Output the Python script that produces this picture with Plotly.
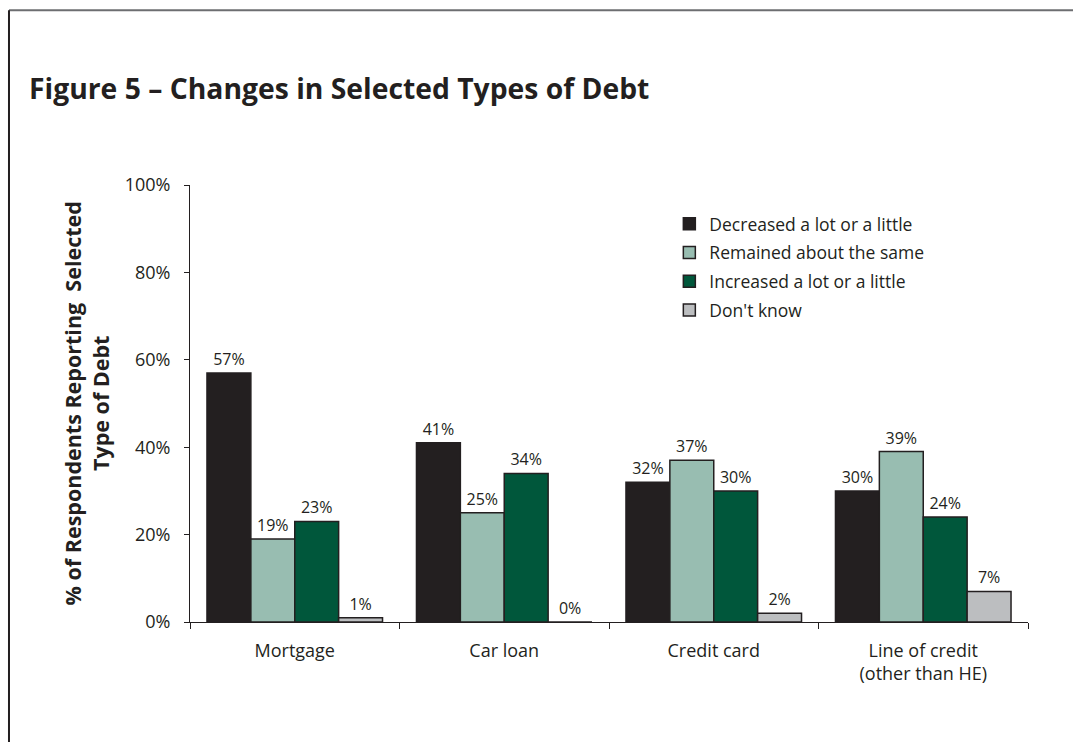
import plotly.graph_objects as go

# Survey results: share of respondents reporting a change in each type of debt
categories = ["Mortgage", "Car loan", "Credit card", "Line of credit<br>(other than HE)"]
series_names = [
    "Decreased a lot or a little",
    "Remained about the same",
    "Increased a lot or a little",
    "Don't know",
]
decreased = [57, 41, 32, 30]
remained = [19, 25, 37, 39]
increased = [23, 34, 30, 24]
dont_know = [1, 0, 2, 7]
y_ticks = [0, 20, 40, 60, 80, 100]
y_tick_labels = ["0%", "20%", "40%", "60%", "80%", "100%"]

series_values = [decreased, remained, increased, dont_know]
colors = ["#231f20", "#98bdb1", "#00573b", "#bcbec0"]

FONT = "Open Sans"
INK = "#231f20"

fig = go.Figure()
for name, vals, col in zip(series_names, series_values, colors):
    fig.add_trace(go.Bar(
        x=categories,
        y=vals,
        name=name,
        legendgroup=name,
        marker=dict(color=col, line=dict(color=INK, width=1.5)),
        text=[f"{v}%" for v in vals],
        textposition="outside",
        outsidetextfont=dict(family=FONT, size=16, color=INK),
        cliponaxis=False,
    ))

fig.update_layout(
    width=1073, height=742,
    margin=dict(l=190, r=45, t=185, b=120),
    paper_bgcolor="white", plot_bgcolor="white",
    font=dict(family=FONT, color=INK),
    barmode="group",
    bargap=0.162,
    bargroupgap=0,
    showlegend=True,
    legend=dict(
        x=0.572, y=0.952, xanchor="left", yanchor="top",
        font=dict(family=FONT, size=17.5, color=INK),
        tracegroupgap=3,
        bgcolor="rgba(0,0,0,0)",
    ),
    xaxis=dict(
        showline=True, linecolor=INK, linewidth=1,
        ticks="outside", tickson="boundaries", ticklen=6, tickcolor=INK,
        tickfont=dict(family=FONT, size=18, color=INK),
        ticklabelstandoff=12,
        showgrid=False,
    ),
    yaxis=dict(
        range=[0, 100], tickmode="array", tickvals=y_ticks, ticktext=y_tick_labels,
        showline=True, linecolor=INK, linewidth=1,
        ticks="outside", ticklen=5, tickcolor=INK,
        tickfont=dict(family=FONT, size=18, color=INK),
        ticklabelstandoff=10,
        showgrid=False, zeroline=False,
    ),
)

# Figure heading
fig.add_annotation(
    text="<b>Figure 5 – Changes in Selected Types of Debt</b>",
    xref="paper", yref="paper", x=-0.1945, y=1.222,
    xanchor="left", yanchor="middle", showarrow=False,
    font=dict(family=FONT, size=28.3, color=INK),
)

# Y-axis title
fig.add_annotation(
    text="<b>% of Respondents Reporting  Selected<br>Type of Debt</b>",
    xref="paper", yref="paper", x=-0.123, y=0.5,
    xanchor="center", yanchor="middle", showarrow=False, textangle=-90,
    font=dict(family=FONT, size=21.5, color=INK),
)

# Page frame lines (top and left)
fig.add_shape(type="line", xref="paper", yref="paper",
              x0=-0.216, x1=1.06, y0=1.4, y1=1.4,
              line=dict(color="#6d6e71", width=2))
fig.add_shape(type="line", xref="paper", yref="paper",
              x0=-0.216, x1=-0.216, y0=-0.275, y1=1.4,
              line=dict(color=INK, width=2))

fig.write_html("out.html")
